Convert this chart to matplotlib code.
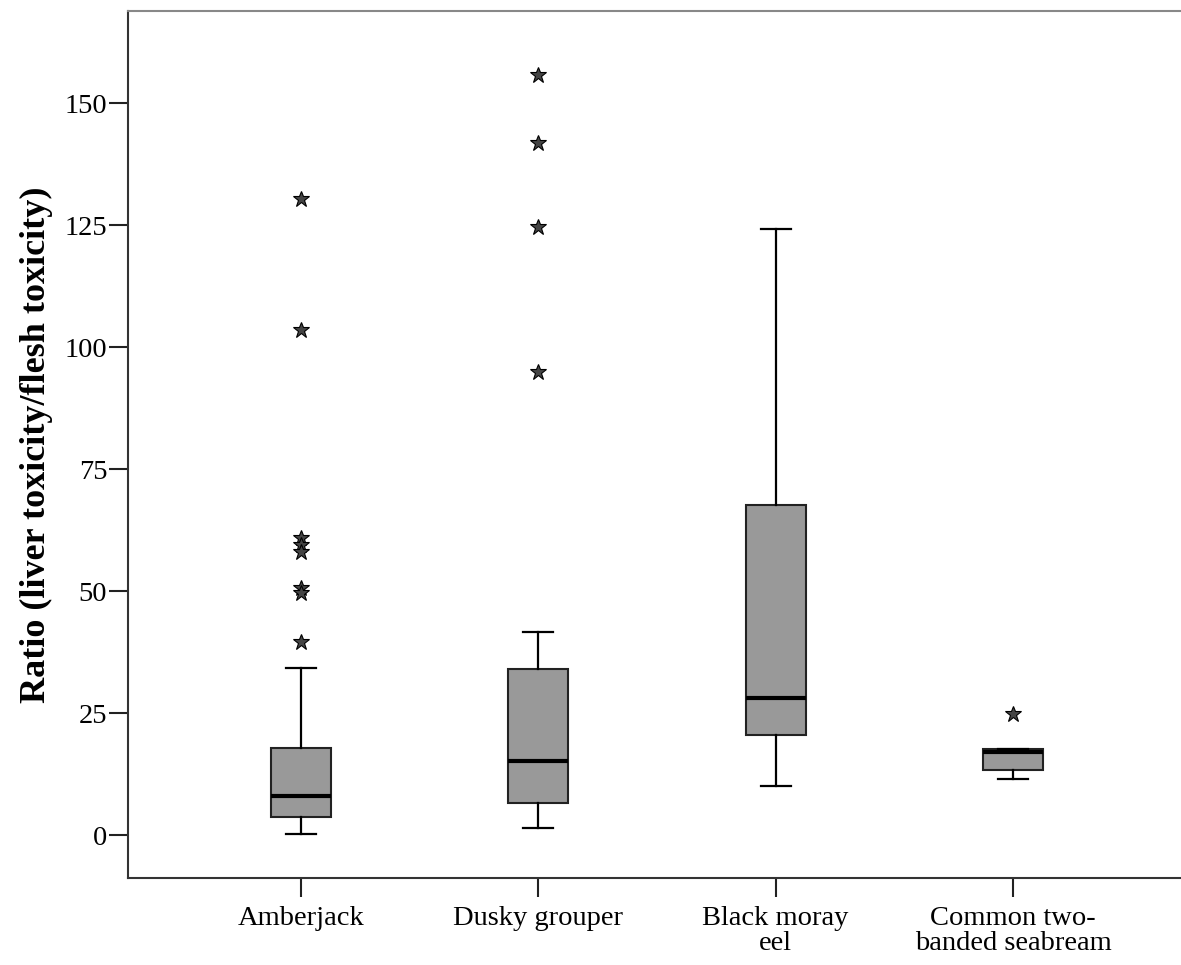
import matplotlib.pyplot as plt

plt.rcParams['font.family'] = ['Liberation Serif', 'DejaVu Serif']

# Data
species = ["Amberjack", "Dusky grouper", "Black moray\neel", "Common two-\nbanded seabream"]
q1 = [3.7, 6.5, 20.5, 13.3]
median = [8.0, 15.2, 28.1, 17.1]
q3 = [17.8, 34.0, 67.6, 17.6]
whisker_low = [0.3, 1.4, 10.0, 11.5]
whisker_high = [34.2, 41.6, 124.2, 17.6]
outliers = [
    [130.3, 103.5, 60.9, 59.4, 58.0, 50.6, 49.6, 39.5],
    [155.7, 141.8, 124.6, 94.9],
    [],
    [24.8],
]
y_ticks = [0, 25, 50, 75, 100, 125, 150]

stats = []
for i, name in enumerate(species):
    stats.append(dict(label=name, q1=q1[i], med=median[i], q3=q3[i],
                      whislo=whisker_low[i], whishi=whisker_high[i],
                      fliers=outliers[i]))

fig = plt.figure(figsize=(11.81, 9.65), dpi=100)
ax = fig.add_axes([128 / 1181, 87 / 965, 1058 / 1181, 867 / 965])

positions = [1, 2, 3, 4]
ax.bxp(stats, positions=positions, widths=0.253, capwidths=0.126,
       patch_artist=True,
       boxprops=dict(facecolor='#999999', edgecolor='#222222', linewidth=1.5),
       medianprops=dict(color='black', linewidth=3),
       whiskerprops=dict(color='black', linewidth=1.6),
       capprops=dict(color='black', linewidth=1.6),
       flierprops=dict(marker='*', markersize=12, markerfacecolor='#444444',
                       markeredgecolor='black', markeredgewidth=0.8,
                       linestyle='none'))

ax.set_xlim(0.271, 4.729)
ax.set_ylim(-8.8, 168.9)
ax.set_yticks(y_ticks)
ax.set_yticklabels([str(t) for t in y_ticks], fontsize=20.5)
ax.set_xticks(positions)
ax.set_xticklabels(species, fontsize=20.5, linespacing=1.0)

ax.tick_params(axis='both', direction='out', length=14, width=1.5,
               color='#222222')
ax.tick_params(axis='y', pad=1)
ax.tick_params(axis='x', pad=6)

ax.spines['right'].set_visible(False)
ax.spines['left'].set_color('#333333')
ax.spines['bottom'].set_color('#333333')
ax.spines['top'].set_color('#888888')
for s in ax.spines.values():
    s.set_linewidth(1.5)

ax.set_ylabel("Ratio (liver toxicity/flesh toxicity)", fontsize=26,
              fontweight='bold', labelpad=8)

fig.savefig("out.png", dpi=100)
